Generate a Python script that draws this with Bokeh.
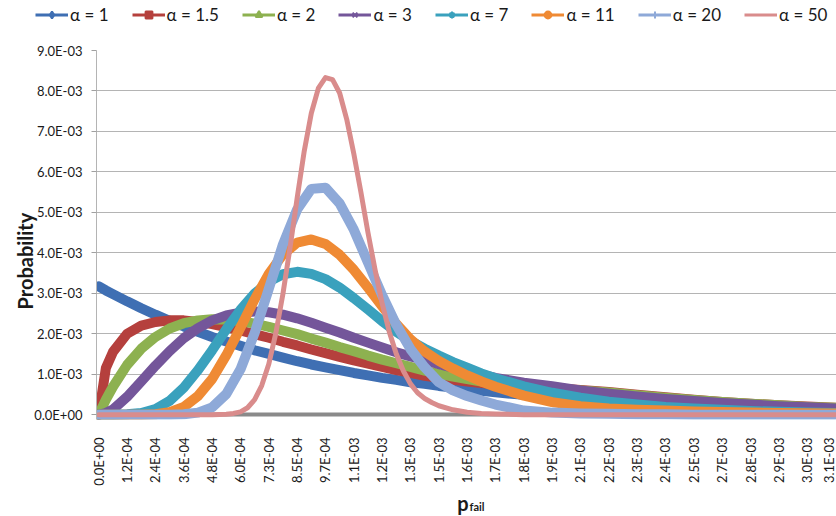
import math
from bokeh.plotting import figure
from bokeh.layouts import column
from bokeh.models import (Range1d, FixedTicker, CustomJSTickFormatter, Legend, LegendItem,
                          Label, Title)
from bokeh.embed import file_html
from bokeh.resources import INLINE

# ---------------- data (probabilities in units of 1e-3) ----------------
pfail_step = 1.209e-04
x_tick_labels = ["0.0E+00", "1.2E-04", "2.4E-04", "3.6E-04", "4.8E-04", "6.0E-04", "7.3E-04",
                 "8.5E-04", "9.7E-04", "1.1E-03", "1.2E-03", "1.3E-03", "1.5E-03", "1.6E-03",
                 "1.7E-03", "1.8E-03", "1.9E-03", "2.1E-03", "2.2E-03", "2.3E-03", "2.4E-03",
                 "2.5E-03", "2.7E-03", "2.8E-03", "2.9E-03", "3.0E-03", "3.1E-03"]
y_ticks = [0.0, 0.001, 0.002, 0.003, 0.004, 0.005, 0.006, 0.007, 0.008, 0.009]

pfail = [0.0, 3.0225e-05, 6.045e-05, 1.209e-04, 1.8135e-04, 2.418e-04, 3.0225e-04, 3.627e-04,
         4.2315e-04, 4.836e-04, 5.4405e-04, 6.045e-04, 6.6495e-04, 7.254e-04, 7.8585e-04,
         8.463e-04, 9.0675e-04, 9.672e-04, 1.02765e-03, 1.0881e-03, 1.14855e-03, 1.209e-03,
         1.26945e-03, 1.3299e-03, 1.39035e-03, 1.4508e-03, 1.51125e-03, 1.5717e-03,
         1.63215e-03, 1.6926e-03, 1.8135e-03, 1.9344e-03, 2.0553e-03, 2.1762e-03, 2.2971e-03,
         2.418e-03, 2.5389e-03, 2.6598e-03, 2.7807e-03, 2.9016e-03, 3.0225e-03, 3.1434e-03]

prob_a1 = [3.17, 3.07, 2.98, 2.80, 2.63, 2.47, 2.32, 2.18, 2.05, 1.92, 1.81, 1.70, 1.59, 1.50,
           1.41, 1.32, 1.24, 1.17, 1.10, 1.03, 0.97, 0.91, 0.86, 0.80, 0.76, 0.71, 0.67, 0.63,
           0.59, 0.55, 0.49, 0.43, 0.38, 0.33, 0.29, 0.26, 0.23, 0.20, 0.18, 0.16, 0.14, 0.12]
prob_a15 = [0.00, 1.15, 1.55, 2.00, 2.20, 2.29, 2.33, 2.33, 2.29, 2.24, 2.16, 2.08, 1.99, 1.90,
            1.80, 1.71, 1.61, 1.52, 1.43, 1.34, 1.26, 1.18, 1.10, 1.03, 0.96, 0.91, 0.86, 0.82,
            0.78, 0.75, 0.70, 0.66, 0.61, 0.56, 0.49, 0.43, 0.37, 0.31, 0.27, 0.23, 0.20, 0.17]
prob_a2 = [0.00, 0.37, 0.69, 1.23, 1.63, 1.92, 2.13, 2.26, 2.33, 2.36, 2.35, 2.31, 2.25, 2.17,
           2.08, 1.99, 1.88, 1.78, 1.67, 1.57, 1.46, 1.36, 1.27, 1.18, 1.09, 1.01, 0.94, 0.88,
           0.82, 0.77, 0.71, 0.66, 0.60, 0.55, 0.48, 0.42, 0.36, 0.31, 0.27, 0.23, 0.19, 0.17]
prob_a3 = [0.00, 0.04, 0.13, 0.44, 0.82, 1.21, 1.57, 1.89, 2.14, 2.33, 2.45, 2.52, 2.55, 2.53,
           2.47, 2.38, 2.27, 2.15, 2.03, 1.90, 1.78, 1.66, 1.54, 1.44, 1.35, 1.25, 1.16, 1.07,
           0.99, 0.91, 0.79, 0.70, 0.60, 0.52, 0.45, 0.39, 0.34, 0.29, 0.25, 0.21, 0.18, 0.15]
prob_a7 = [0.00, 0.00, 0.00, 0.01, 0.04, 0.14, 0.34, 0.67, 1.10, 1.59, 2.11, 2.59, 2.99, 3.29,
           3.47, 3.53, 3.48, 3.35, 3.14, 2.88, 2.60, 2.31, 2.05, 1.82, 1.63, 1.46, 1.30, 1.16,
           1.02, 0.90, 0.70, 0.54, 0.42, 0.32, 0.25, 0.19, 0.15, 0.12, 0.09, 0.07, 0.055, 0.04]
prob_a11 = [0.00, 0.00, 0.00, 0.00, 0.00, 0.01, 0.06, 0.19, 0.46, 0.88, 1.47, 2.15, 2.85, 3.48,
            3.96, 4.25, 4.33, 4.22, 3.95, 3.58, 3.14, 2.68, 2.24, 1.86, 1.56, 1.33, 1.14, 0.97,
            0.82, 0.69, 0.47, 0.31, 0.21, 0.15, 0.12, 0.10, 0.08, 0.065, 0.05, 0.04, 0.035, 0.03]
prob_a20 = [0.00, 0.00, 0.00, 0.00, 0.00, 0.00, 0.00, 0.01, 0.05, 0.18, 0.51, 1.12, 2.02, 3.11,
            4.21, 5.07, 5.58, 5.61, 5.22, 4.57, 3.76, 2.95, 2.22, 1.62, 1.17, 0.80, 0.60, 0.46,
            0.35, 0.25, 0.10, 0.05, 0.03, 0.02, 0.01, 0.01, 0.0, 0.0, 0.0, 0.0, 0.0, 0.0]

pfail_a50 = [0.0, 1.209e-04, 2.418e-04, 3.627e-04, 4.836e-04, 5.4405e-04, 5.7428e-04, 6.045e-04,
             6.3473e-04, 6.6495e-04, 6.9518e-04, 7.254e-04, 7.5563e-04, 7.8585e-04, 8.1608e-04,
             8.463e-04, 8.7653e-04, 9.0675e-04, 9.3698e-04, 9.672e-04, 9.9743e-04, 1.02765e-03,
             1.05788e-03, 1.0881e-03, 1.11833e-03, 1.14855e-03, 1.17878e-03, 1.209e-03,
             1.23923e-03, 1.26945e-03, 1.29968e-03, 1.3299e-03, 1.36013e-03, 1.39035e-03,
             1.42058e-03, 1.4508e-03, 1.51125e-03, 1.5717e-03, 1.63215e-03, 1.6926e-03,
             1.8135e-03, 1.9344e-03, 2.0553e-03, 2.1762e-03, 2.2971e-03, 2.418e-03, 2.5389e-03,
             2.6598e-03, 2.7807e-03, 2.9016e-03, 3.0225e-03, 3.1434e-03]
prob_a50 = [0.0, 0.0, 0.0, 0.0, 0.0, 0.01, 0.03, 0.07, 0.17, 0.37, 0.72, 1.25, 2.02, 2.99, 4.13,
            5.35, 6.51, 7.45, 8.07, 8.33, 8.28, 7.95, 7.30, 6.45, 5.50, 4.50, 3.58, 2.75, 2.05,
            1.50, 1.08, 0.76, 0.54, 0.40, 0.30, 0.22, 0.12, 0.06, 0.03, 0.015,
            0.0, 0.0, 0.0, 0.0, 0.0, 0.0, 0.0, 0.0, 0.0, 0.0, 0.0, 0.0]

series = [
    ("α = 1",   pfail,     prob_a1,  "#3f6fb3", "diamond",  13, 10),
    ("α = 1.5", pfail,     prob_a15, "#b5403d", "square",   9,  10),
    ("α = 2",   pfail,     prob_a2,  "#8db150", "triangle", 11, 10),
    ("α = 3",   pfail,     prob_a3,  "#74569a", "x",        10, 10),
    ("α = 7",   pfail,     prob_a7,  "#3aa1bd", "asterisk", 11, 10),
    ("α = 11",  pfail,     prob_a11, "#ef8a34", "circle",   10, 10),
    ("α = 20",  pfail,     prob_a20, "#8ea9d8", "cross",    11, 10),
    ("α = 50",  pfail_a50, prob_a50, "#d98c8c", None,       0,  5),
]

W = 836
TEXT = "#1a1a1a"

# ---------------- legend strip ----------------
lf = figure(width=W, height=28, output_backend="svg", toolbar_location=None,
            x_range=Range1d(0, 1), y_range=Range1d(0, 1), x_axis_type=None, y_axis_type=None,
            min_border_left=0, min_border_right=0, min_border_top=0, min_border_bottom=0)
lf.frame_align = False
lf.outline_line_color = None
legend_items = []
for label, xs, ys, color, marker, msize, lw in series:
    # legend swatches only: points placed outside the strip's visible range
    lr = lf.line([5, 6], [5, 6], line_color=color, line_width=3)
    rends = [lr]
    if marker is not None:
        rends.append(lf.scatter([5], [5], marker=marker, size=msize, fill_color=color,
                                line_color=color, line_width=2))
    legend_items.append(LegendItem(label=label, renderers=rends))
legend = Legend(items=legend_items, orientation="horizontal", location=(35, 3),
                glyph_width=33, glyph_height=17, label_height=17, label_standoff=2,
                spacing=23, padding=0, margin=0, border_line_color=None,
                background_fill_alpha=0, label_text_font="Lato", label_text_font_size="17px",
                label_text_color=TEXT)
lf.add_layout(legend, "center")

# ---------------- main chart ----------------
p = figure(width=W, height=462, output_backend="svg", toolbar_location=None,
           x_range=Range1d(-0.081 * pfail_step, 26.035 * pfail_step),
           y_range=Range1d(-0.00012, 0.009),
           min_border_left=96, min_border_right=0, min_border_top=22, min_border_bottom=71)
p.frame_align = False
p.outline_line_color = None
p.xgrid.grid_line_color = None
p.ygrid.grid_line_color = "#b4b4b4"
p.ygrid.grid_line_width = 1.2
p.ygrid.ticker = FixedTicker(ticks=y_ticks)

# gray category-axis baseline, drawn beneath the series
p.hspan(y=[0.0], line_color="#8a8a8a", line_width=4)

for label, xs, ys, color, marker, msize, lw in series:
    yv = [v * 1e-3 for v in ys]
    p.line(xs, yv, line_color=color, line_width=lw, line_join="round", line_cap="round")

yfmt = CustomJSTickFormatter(code="""
const s = tick.toExponential(1);
const parts = s.split('e');
const n = parseInt(parts[1]);
return parts[0] + 'E' + (n < 0 ? '-' : '+') + String(Math.abs(n)).padStart(2, '0');
""")
p.yaxis.ticker = FixedTicker(ticks=y_ticks)
p.yaxis.formatter = yfmt
p.yaxis.major_label_text_font = "Lato"
p.yaxis.major_label_text_font_size = "13px"
p.yaxis.major_label_text_color = TEXT
p.yaxis.major_tick_out = 5
p.yaxis.major_tick_in = 0
p.yaxis.major_tick_line_color = "#a0a0a0"
p.yaxis.minor_tick_line_color = None
p.yaxis.axis_line_color = "#b4b4b4"
p.yaxis.major_label_standoff = 9

xfmt = CustomJSTickFormatter(args=dict(labels=x_tick_labels, step=pfail_step), code="""
const i = Math.round(tick / step);
return (i >= 0 && i < labels.length) ? labels[i] : '';
""")
p.xaxis.ticker = FixedTicker(ticks=[i * pfail_step for i in range(len(x_tick_labels))])
p.xaxis.formatter = xfmt
p.xaxis.major_label_orientation = math.pi / 2
p.xaxis.major_label_text_font = "Lato"
p.xaxis.major_label_text_font_size = "13px"
p.xaxis.major_label_text_color = TEXT
p.xaxis.axis_line_color = None
p.xaxis.major_tick_line_color = None
p.xaxis.minor_tick_line_color = None
p.xaxis.major_label_standoff = 12

p.add_layout(Title(text="Probability", align="left", offset=110, standoff=-10,
                   text_font="Lato", text_font_style="bold", text_font_size="20px",
                   text_color=TEXT), "left")

# ---------------- x-axis title strip ----------------
xf = figure(width=W, height=26, output_backend="svg", toolbar_location=None,
            x_range=Range1d(0, 1), y_range=Range1d(0, 1), x_axis_type=None, y_axis_type=None,
            min_border_left=0, min_border_right=0, min_border_top=0, min_border_bottom=0)
xf.frame_align = False
xf.outline_line_color = None
xf.add_layout(Label(x=468, y=14, x_units="screen", y_units="screen", text="p",
                    text_align="right", text_baseline="alphabetic",
                    text_font="Lato", text_font_style="bold", text_font_size="20px",
                    text_color=TEXT))
xf.add_layout(Label(x=469, y=10, x_units="screen", y_units="screen", text="fail",
                    text_align="left", text_baseline="alphabetic",
                    text_font="Lato", text_font_style="bold", text_font_size="11px",
                    text_color=TEXT))

layout = column(lf, p, xf, spacing=0)
open("out.html", "w").write(file_html(layout, INLINE))
